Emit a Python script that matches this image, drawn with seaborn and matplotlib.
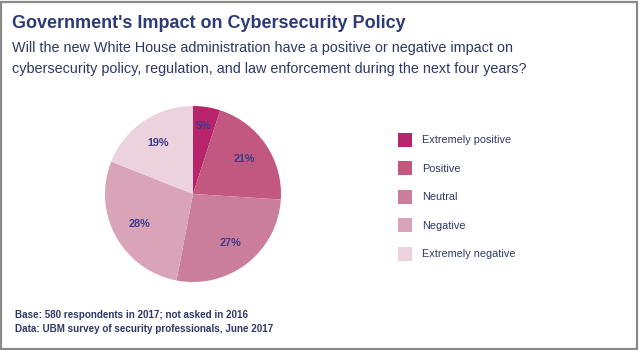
import matplotlib
matplotlib.use("Agg")
import matplotlib.pyplot as plt
import matplotlib.patches as mpatches
import seaborn as sns

categories = ["Extremely positive", "Positive", "Neutral", "Negative", "Extremely negative"]
shares = [5, 21, 27, 28, 19]
colors = ["#b8246c", "#c2587f", "#cb7d9c", "#d9a3b8", "#ebd2dc"]

title = "Government's Impact on Cybersecurity Policy"
subtitle = ("Will the new White House administration have a positive or negative impact on\n"
            "cybersecurity policy, regulation, and law enforcement during the next four years?")
notes = ["Base: 580 respondents in 2017; not asked in 2016",
         "Data: UBM survey of security professionals, June 2017"]

sns.set_theme(style="white")
plt.rcParams["font.family"] = ["Liberation Sans", "DejaVu Sans"]

navy = "#2c3a78"
text_col = "#2e3866"

fig = plt.figure(figsize=(6.4, 3.5), dpi=100)
fig.patch.set_facecolor("white")

# frame round the whole graphic
fig.add_artist(mpatches.Rectangle((0.002, 0.004), 0.994, 0.99, transform=fig.transFigure,
                                  fill=False, edgecolor="#8a8a8a", lw=1.6))

fig.text(12 / 640, 1 - 23 / 350, title, fontsize=13, fontweight="bold", color=navy, va="center")
fig.text(12 / 640, 1 - 58.5 / 350, subtitle, fontsize=10.4, color=text_col, va="center", linespacing=1.7)

ax = fig.add_axes([(193 - 88) / 640, (350 - 194 - 88) / 350, 176 / 640, 176 / 350])
wedges, _, pcts = ax.pie(shares, colors=colors, startangle=90, counterclock=False,
                         autopct=lambda p: f"{p:.0f}%", pctdistance=0.7,
                         wedgeprops=dict(linewidth=0),
                         textprops=dict(fontsize=7.8, fontweight="bold", color="#3b3c8c"))
pcts[0].set_position((pcts[0].get_position()[0] * 1.12, pcts[0].get_position()[1] * 1.12))
ax.set_xlim(-1, 1)
ax.set_ylim(-1, 1)
ax.set_aspect("equal")

leg = fig.legend(wedges, categories, loc="upper left", bbox_to_anchor=(388 / 640, 1 - 123 / 350),
                 frameon=False, fontsize=7.8, labelcolor=text_col, handlelength=1.3,
                 handleheight=1.6, labelspacing=1.35, handletextpad=0.95)

for i, n in enumerate(notes):
    fig.text(15 / 640, 1 - (315 + 14 * i) / 350, n, fontsize=7.1, fontweight="bold",
             color=text_col, va="center")

fig.savefig("out.png", dpi=100)
